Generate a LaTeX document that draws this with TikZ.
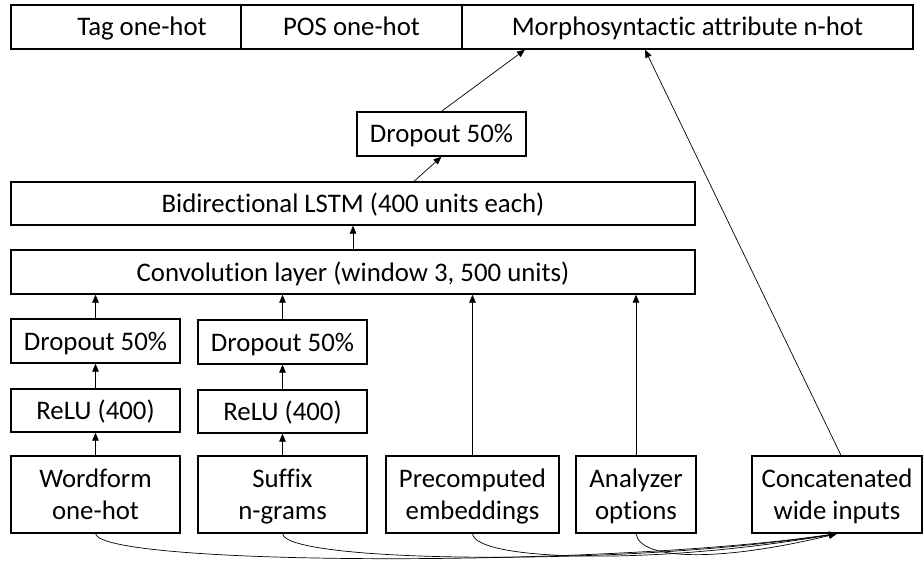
\documentclass[tikz,border=0pt]{standalone}
\usepackage{fontspec}
\setmainfont{Carlito}[Ligatures={NoCommon}]
\usetikzlibrary{arrows.meta,calc}

\tikzset{
  box/.style={draw, line width=1.3pt, inner sep=0pt, align=center,
              text height=23.5pt, text depth=5.5pt,
              font=\fontsize{26.8}{32}\selectfont},
  twoline/.style={box, text height=55.5pt, minimum height=77},
  link/.style={line width=0.7pt, -{Triangle[length=8pt,width=6.5pt]}},
}

\begin{document}
\begin{tikzpicture}[x=1pt, y=-1pt]
\useasboundingbox (0,0) rectangle (924,564);

% output layer
\node[box, minimum width=230, minimum height=44] (tag)   at (126,27)   {\hspace*{32pt}Tag one-hot};
\node[box, minimum width=221, minimum height=44] (pos)   at (351.5,27) {POS one-hot};
\node[box, minimum width=451, minimum height=44] (morph) at (687.5,27) {Morphosyntactic attribute n-hot};

% recurrent part
\node[box, minimum width=169, minimum height=44] (drop3) at (441.5,134) {Dropout 50\%};
\node[box, minimum width=684, minimum height=43] (lstm)  at (353,203.5) {Bidirectional LSTM (400 units each)};
\node[box, minimum width=684, minimum height=44] (conv)  at (353,272)   {Convolution layer (window 3, 500 units)};

% dense branches
\node[box, minimum width=169, minimum height=44] (drop1) at (95.5,341)   {Dropout 50\%};
\node[box, minimum width=169, minimum height=44] (drop2) at (282.5,342)  {Dropout 50\%};
\node[box, minimum width=169, minimum height=43] (relu1) at (95.5,410.5) {ReLU (400)};
\node[box, minimum width=169, minimum height=43] (relu2) at (282.5,411.5){ReLU (400)};

% inputs
\node[twoline, minimum width=169] (wf)  at (95.5,494.5)  {Wordform\\one-hot};
\node[twoline, minimum width=169] (suf) at (282.5,494.5) {Suffix\\n-grams};
\node[twoline, minimum width=173] (pre) at (472.5,494.5) {Precomputed\\embeddings};
\node[twoline, minimum width=120] (ana) at (636,494.5)   {Analyzer\\options};
\node[twoline, minimum width=170] (cat) at (837,494.5)   {Concatenated\\wide inputs};

% vertical flow
\draw[link] (wf.north) -- (relu1.south);
\draw[link] (relu1.north) -- (drop1.south);
\draw[link] (drop1.north) -- (drop1.north |- conv.south);
\draw[link] (suf.north) -- (relu2.south);
\draw[link] (relu2.north) -- (drop2.south);
\draw[link] (drop2.north) -- (drop2.north |- conv.south);
\draw[link] (pre.north) -- (pre.north |- conv.south);
\draw[link] (ana.north) -- (ana.north |- conv.south);
\draw[link] (conv.north) -- (lstm.south);
\draw[link] ([xshift=61pt]lstm.north) -- (drop3.south);
\draw[link] (drop3.north) -- ([xshift=-162.5pt]morph.south);
\draw[link] ([xshift=4pt]cat.north) -- ([xshift=-42.5pt]morph.south);

% wide inputs gathered into the concatenation
\draw[link] (wf.south)  .. controls ($(wf.south)+(5,32)$)  and (600,568) .. (cat.south);
\draw[link] (suf.south) .. controls ($(suf.south)+(3,29)$) and (620,567) .. (cat.south);
\draw[link] (pre.south) .. controls ($(pre.south)+(3,27)$) and (650,566) .. (cat.south);
\draw[link] (ana.south) .. controls ($(ana.south)+(4,27)$) and (720,562) .. (cat.south);
\end{tikzpicture}
\end{document}
